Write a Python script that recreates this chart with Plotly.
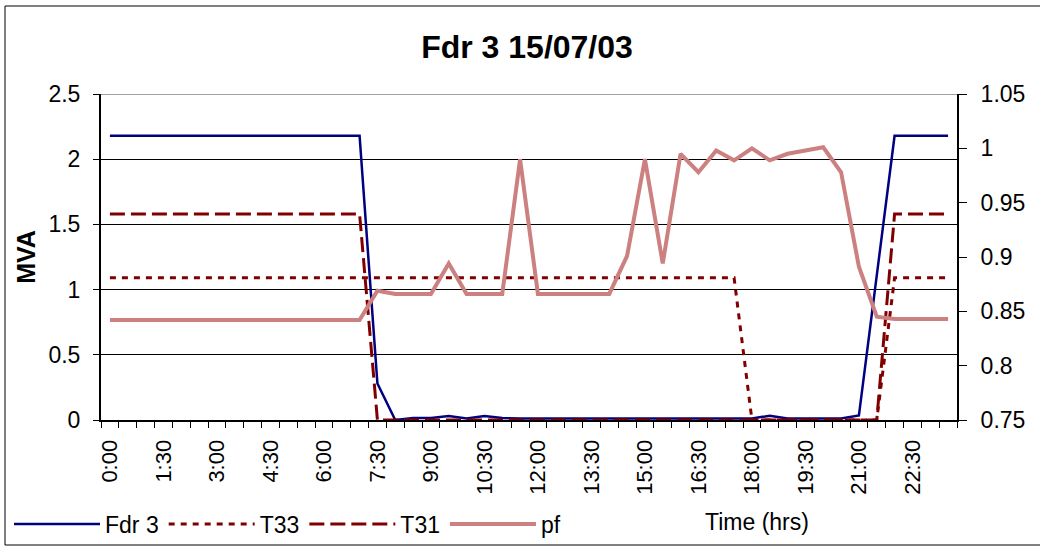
import plotly.graph_objects as go

# ---- data ----
times = ["0:00", "0:30", "1:00", "1:30", "2:00", "2:30", "3:00", "3:30",
         "4:00", "4:30", "5:00", "5:30", "6:00", "6:30", "7:00", "7:30",
         "8:00", "8:30", "9:00", "9:30", "10:00", "10:30", "11:00", "11:30",
         "12:00", "12:30", "13:00", "13:30", "14:00", "14:30", "15:00", "15:30",
         "16:00", "16:30", "17:00", "17:30", "18:00", "18:30", "19:00", "19:30",
         "20:00", "20:30", "21:00", "21:30", "22:00", "22:30", "23:00", "23:30"]

tick_labels = ["0:00", "1:30", "3:00", "4:30", "6:00", "7:30", "9:00", "10:30",
               "12:00", "13:30", "15:00", "16:30", "18:00", "19:30", "21:00", "22:30"]

fdr3 = [2.18, 2.18, 2.18, 2.18, 2.18, 2.18, 2.18, 2.18,
        2.18, 2.18, 2.18, 2.18, 2.18, 2.18, 2.18, 0.28,
        0.0, 0.015, 0.015, 0.03, 0.012, 0.03, 0.015, 0.012,
        0.012, 0.012, 0.012, 0.012, 0.012, 0.012, 0.012, 0.012,
        0.012, 0.012, 0.012, 0.012, 0.012, 0.033, 0.012, 0.012,
        0.012, 0.012, 0.035, 1.1, 2.18, 2.18, 2.18, 2.18]

t33 = [1.09, 1.09, 1.09, 1.09, 1.09, 1.09, 1.09, 1.09,
       1.09, 1.09, 1.09, 1.09, 1.09, 1.09, 1.09, 1.09,
       1.09, 1.09, 1.09, 1.09, 1.09, 1.09, 1.09, 1.09,
       1.09, 1.09, 1.09, 1.09, 1.09, 1.09, 1.09, 1.09,
       1.09, 1.09, 1.09, 1.09, 0.0, 0.0, 0.0, 0.0,
       0.0, 0.0, 0.0, 0.0, 1.09, 1.09, 1.09, 1.09]

t31 = [1.58, 1.58, 1.58, 1.58, 1.58, 1.58, 1.58, 1.58,
       1.58, 1.58, 1.58, 1.58, 1.58, 1.58, 1.58, 0.0,
       0.0, 0.0, 0.0, 0.0, 0.0, 0.0, 0.0, 0.0,
       0.0, 0.0, 0.0, 0.0, 0.0, 0.0, 0.0, 0.0,
       0.0, 0.0, 0.0, 0.0, 0.0, 0.0, 0.0, 0.0,
       0.0, 0.0, 0.0, 0.0, 1.58, 1.58, 1.58, 1.58]

pf = [0.842, 0.842, 0.842, 0.842, 0.842, 0.842, 0.842, 0.842,
      0.842, 0.842, 0.842, 0.842, 0.842, 0.842, 0.842, 0.869,
      0.866, 0.866, 0.866, 0.894, 0.866, 0.866, 0.866, 0.99,
      0.866, 0.866, 0.866, 0.866, 0.866, 0.901, 0.99, 0.894,
      0.995, 0.978, 0.998, 0.989, 1.0, 0.989, 0.995, 0.998,
      1.001, 0.978, 0.891, 0.845, 0.843, 0.843, 0.843, 0.843]

# ---- figure ----
FONT = "Liberation Sans, Arial, sans-serif"
xpos = list(range(len(times)))
tickvals = [times.index(t) for t in tick_labels]

fig = go.Figure()
fig.add_trace(go.Scatter(x=xpos, y=fdr3, name="Fdr 3", mode="lines",
                         line=dict(color="#000080", width=2.5), text=times))
fig.add_trace(go.Scatter(x=xpos, y=t33, name="T33", mode="lines",
                         line=dict(color="#800000", width=3, dash="6px,6px"), text=times))
fig.add_trace(go.Scatter(x=xpos, y=t31, name="T31", mode="lines",
                         line=dict(color="#800000", width=3, dash="15px,6px"), text=times))
fig.add_trace(go.Scatter(x=xpos, y=pf, name="pf", mode="lines", yaxis="y2",
                         line=dict(color="#cc8080", width=4), text=times))

L, R, T, B = 101, 957, 94, 420
W, H = 1040, 546
pw, ph = R - L, B - T

def px_x(x):
    return (x - L) / pw

def px_y(y):
    return (B - y) / ph

fig.update_layout(
    width=W, height=H,
    margin=dict(l=L, r=W - R, t=T, b=H - B, autoexpand=False),
    paper_bgcolor="white", plot_bgcolor="white",
    font=dict(family=FONT, size=21, color="black"),
    title=dict(text="Fdr 3 15/07/03", x=527 / W, xref="container", xanchor="center",
               y=1 - 47 / H, yref="container", yanchor="middle",
               font=dict(size=32, weight="bold", family=FONT, color="black")),
    xaxis=dict(range=[-0.5, 47.5], tickvals=tickvals, ticktext=tick_labels,
               tickangle=-90, ticks="", showgrid=False, zeroline=False,
               showline=True, linecolor="black", linewidth=2, automargin=False,
               ticklabelstandoff=9, tickfont=dict(size=22),
               minor=dict(tick0=-0.5, dtick=1, ticks="outside", ticklen=6,
                          tickcolor="black", tickwidth=1, showgrid=False)),
    yaxis=dict(range=[0, 2.5], tick0=0, dtick=0.5, ticks="outside", ticklen=6,
               tickcolor="black", showgrid=True, gridcolor="black", gridwidth=1,
               zeroline=False, showline=True, linecolor="black", linewidth=2,
               automargin=False, ticklabelstandoff=8, tickfont=dict(size=23),
               title=dict(text="MVA", standoff=6,
                          font=dict(size=25, weight="bold", family=FONT))),
    yaxis2=dict(range=[0.75, 1.05], tick0=0.75, dtick=0.05, overlaying="y", side="right",
                ticks="outside", ticklen=8, tickcolor="black", showgrid=False,
                zeroline=False, showline=True, linecolor="black", linewidth=2,
                automargin=False, ticklabelstandoff=9, tickfont=dict(size=23)),
    # inside halves of the crossing tick marks
    yaxis3=dict(range=[0, 2.5], tick0=0, dtick=0.5, overlaying="y", side="left",
                ticks="inside", ticklen=7, tickcolor="black", showticklabels=False,
                showgrid=False, zeroline=False, showline=False, automargin=False),
    yaxis4=dict(range=[0.75, 1.05], tick0=0.75, dtick=0.05, overlaying="y", side="right",
                ticks="inside", ticklen=7, tickcolor="black", showticklabels=False,
                showgrid=False, zeroline=False, showline=False, automargin=False),
    legend=dict(orientation="h", xref="container", yref="container",
                x=9 / W, xanchor="left", y=1 - 524 / H, yanchor="middle",
                itemwidth=86, font=dict(size=23), bgcolor="rgba(0,0,0,0)",
                traceorder="normal"),
    showlegend=True,
    annotations=[dict(text="Time (hrs)", x=px_x(757), y=px_y(522), xref="paper", yref="paper",
                      showarrow=False, xanchor="center", yanchor="middle",
                      font=dict(size=23, family=FONT))],
    shapes=[
        dict(type="line", xref="paper", yref="y", x0=0, x1=1, y0=2.5, y1=2.5,
             line=dict(color="#a0a0a0", width=2)),
        dict(type="rect", xref="paper", yref="paper", x0=px_x(5), x1=px_x(1050),
             y0=px_y(545), y1=px_y(6), line=dict(color="black", width=1)),
    ],
)

fig.write_html("out.html", config={"displayModeBar": False},
               post_script="document.body.style.margin='0';document.body.style.overflow='hidden';")
